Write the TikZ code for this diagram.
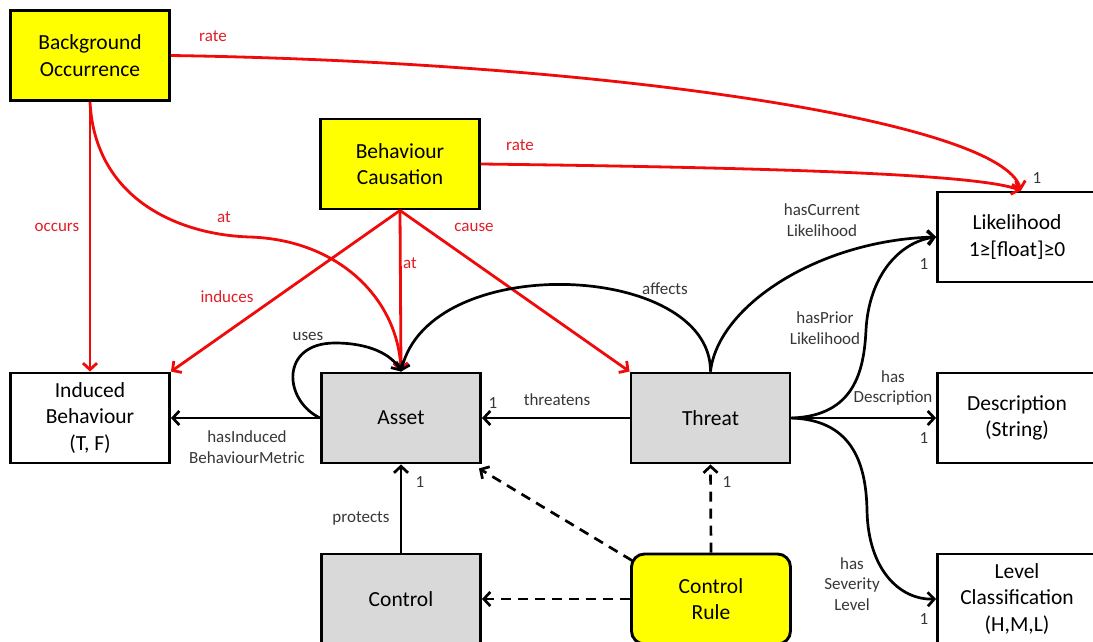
\documentclass[tikz,border=0pt]{standalone}
\usepackage{fontspec}
\setmainfont{Carlito}
\usetikzlibrary{arrows.meta,calc}
\definecolor{boxyellow}{RGB}{255,255,0}
\definecolor{boxgray}{RGB}{217,217,217}
\definecolor{relred}{RGB}{240,10,10}
\definecolor{lblred}{RGB}{225,30,40}
\definecolor{lblgray}{RGB}{55,55,55}
\tikzset{
  box/.style={draw=black, line width=2.9pt, minimum width=#1, minimum height=90pt, align=center, inner sep=0pt,
    font=\fontsize{21.5}{26.5}\selectfont},
  box/.default=159pt,
  yellowbox/.style={box, fill=boxyellow},
  graybox/.style={box, fill=boxgray},
  whitebox/.style={box, fill=white},
  tip/.style={-{Straight Barb[length=6.5pt,width=14pt]}},
  redrel/.style={tip, draw=relred, line width=2.8pt},
  blackrel/.style={tip, draw=black, line width=2.7pt},
  dashrel/.style={blackrel, dash pattern=on 10pt off 7pt},
  rlbl/.style={text=lblred, font=\fontsize{17}{20.5}\selectfont, align=center, inner sep=0pt},
  blbl/.style={text=lblgray, font=\fontsize{17}{20.5}\selectfont, align=center, inner sep=0pt},
}
\begin{document}
\begin{tikzpicture}[x=1pt,y=-1pt]
\clip (0,0) rectangle (1093,642);
\fill[white] (0,0) rectangle (1093,642);

% nodes
\node[yellowbox] (bo) at (90,55.5) {Background\\Occurrence};
\node[yellowbox] (bc) at (400,164) {Behaviour\\Causation};
\node[whitebox=150pt] (lik) at (1017,237) {Likelihood\\1≥[float]≥0};
\node[whitebox=150pt] (desc) at (1017,418) {Description\\(String)};
\node[whitebox=150pt] (lev) at (1017,599) {Level\\Classification\\(H,M,L)};
\node[whitebox] (ib) at (90,418) {Induced\\Behaviour\\(T, F)};
\node[graybox] (asset) at (401,418) {Asset};
\node[graybox] (threat) at (710.5,418) {Threat};
\node[graybox] (control) at (401,599) {Control};
\node[yellowbox=160pt, rounded corners=13pt] (cr) at (711,599) {Control\\Rule};

\coordinate (likin) at ($(lik.north)+(4,0)$);
\coordinate (bomid) at (250,237);
\coordinate (uselp) at (335,343);
\coordinate (priormid) at (866,330);
\coordinate (sevmid) at (867,510);
\coordinate (crnw) at ($(cr.north west)+(2,8)$);
\coordinate (asse) at ($(asset.south east)+(-3,4)$);

% red relations
\draw[redrel] (bo.east) .. controls (600,62) and (1000,120) .. (likin);
\draw[redrel] (bc.east) .. controls (800,168) and (980,175) .. (likin);
\draw[redrel] (bo.south) -- (ib.north);
\draw[redrel] (bo.south) .. controls (95,200) and (180,235) .. (bomid)
   .. controls (340,240) and (398,300) .. (asset.north);
\draw[redrel] (bc.south) -- (ib.north east);
\draw[redrel] (bc.south) -- (asset.north);
\draw[redrel] (bc.south) -- (threat.north west);

% black relations
\draw[blackrel] (threat.north) .. controls (711,262) and (430,250) .. (asset.north);
\draw[blackrel] (asset.west) .. controls (283,400) and (280,343) .. (uselp)
   .. controls (370,343) and (392,355) .. (asset.north);
\draw[blackrel] (asset.west) -- (ib.east);
\draw[blackrel] (threat.west) -- (asset.east);
\draw[blackrel] (threat.north) .. controls (718,305) and (820,240) .. (lik.west);
\draw[blackrel] (threat.east) .. controls (855,416) and (864,370) .. (priormid)
   .. controls (869,275) and (900,242) .. (lik.west);
\draw[blackrel] (threat.east) -- (desc.west);
\draw[blackrel] (threat.east) .. controls (850,420) and (866,460) .. (sevmid)
   .. controls (868,570) and (900,600) .. (lev.west);
\draw[blackrel] (control.north) -- (asset.south);
\draw[dashrel] (crnw) -- (asse);
\draw[dashrel] (cr.west) -- (control.east);
\draw[dashrel] (cr.north) -- (threat.south);

% red labels
\node[rlbl] (l1) at (213,36) {rate};
\node[rlbl] (l2) at (520,145) {rate};
\node[rlbl] (l3) at (57,227) {occurs};
\node[rlbl] (l4) at (224,217) {at};
\node[rlbl] (l5) at (227,297) {induces};
\node[rlbl] (l6) at (410,263) {at};
\node[rlbl] (l7) at (474,227) {cause};

% black labels
\node[blbl] (m1) at (665,289) {affects};
\node[blbl] (m2) at (308,336) {uses};
\node[blbl] (m3) at (247,447) {hasInduced\\BehaviourMetric};
\node[blbl] (m4) at (557,400) {threatens};
\node[blbl] (m5) at (361,518) {protects};
\node[blbl] (m6) at (822,220) {hasCurrent\\Likelihood};
\node[blbl] (m7) at (825,328) {hasPrior\\Likelihood};
\node[blbl] (m8) at (893,388) {has\\Description};
\node[blbl] (m9) at (852,584) {has\\Severity\\Level};

% multiplicities
\node[blbl] (n1) at (1037,178) {1};
\node[blbl] (n2) at (924,264) {1};
\node[blbl] (n3) at (924,438) {1};
\node[blbl] (n4) at (924,619) {1};
\node[blbl] (n5) at (493,403) {1};
\node[blbl] (n6) at (420,482) {1};
\node[blbl] (n7) at (727,482) {1};
\end{tikzpicture}
\end{document}
